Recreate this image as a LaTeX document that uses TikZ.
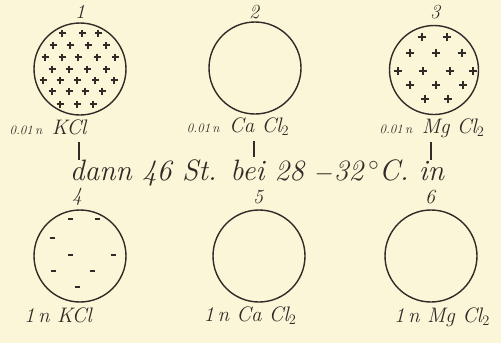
\documentclass[tikz,border=0pt]{standalone}
\usepackage{tikz}
\definecolor{paper}{HTML}{FCF6D9}
\definecolor{ink}{HTML}{2F2B26}
\begin{document}
\begin{tikzpicture}[x=1pt,y=-1pt,
  dish/.style={circle,draw=ink,line width=1.4pt,minimum size=92pt,inner sep=0pt},
  num/.style={text=ink,font=\fontsize{20}{22}\selectfont\itshape,inner sep=0pt},
  lab/.style={text=ink,font=\fontsize{21}{24}\selectfont\itshape,inner sep=0pt},
  mid/.style={text=ink,font=\fontsize{29.5}{32}\selectfont\itshape,inner sep=0pt,anchor=base},
  tick/.style={draw=ink,line width=1.1pt},
  plusmark/.style={draw=ink,line width=1.1pt},
  minusmark/.style={draw=ink,line width=1.2pt}]
\fill[paper] (0,0) rectangle (501,343);
\useasboundingbox (0,0) rectangle (501,343);
% dishes
\node[dish] (d1) at (80,69) {};
\node[dish] (d2) at (255,68) {};
\node[dish,minimum size=89pt] (d3) at (434,70) {};
\node[dish] (d4) at (80,256) {};
\node[dish] (d5) at (259,256) {};
\node[dish] (d6) at (431,256) {};
% numbers
\node[num] (n1) at (80,12) {1};
\node[num] (n2) at (254,12) {2};
\node[num] (n3) at (435,12) {3};
\node[num] (n4) at (77,197) {4};
\node[num] (n5) at (258,197) {5};
\node[num] (n6) at (430,197) {6};
% labels
\node[lab] (l1) at (48,127) {{\fontsize{13}{15}\selectfont 0.01\,n\,} KCl};
\node[lab] (l2) at (238,127) {{\fontsize{13}{15}\selectfont 0.01\,n\,} Ca Cl$_2$};
\node[lab] (l3) at (432,128) {{\fontsize{13}{15}\selectfont 0.01\,n\,} Mg Cl$_2$};
\node[lab] (l4) at (58,315) {1\,n KCl};
\node[lab] (l5) at (250,316) {1\,n Ca Cl$_2$};
\node[lab] (l6) at (442,317) {1\,n Mg Cl$_2$};
\node[mid] (m) at (257,180) {dann 46 St. bei 28 $-$32\,$^\circ$C. in};
% ticks
\coordinate (t1a) at (79,142); \coordinate (t1b) at (79,160);
\coordinate (t2a) at (254,141); \coordinate (t2b) at (254,157);
\coordinate (t3a) at (431,142); \coordinate (t3b) at (431,160);
\draw[tick] (t1a) -- (t1b);
\draw[tick] (t2a) -- (t2b);
\draw[tick] (t3a) -- (t3b);
% pluses dish 1
\foreach \px/\py in {62/33,82/33,98/33,
  53/45,70/45,88/45,106/45,
  45/57,62/57,78/57,97/57,115/57,
  52/69,69/69,87/69,106/69,
  43/80,60/80,77/80,95/80,114/80,
  52/91,69/91,85/91,102/91,
  60/104,77/104,93/104}
  \draw[plusmark] (\px-3.5,\py) -- (\px+3.5,\py) (\px,\py-3.5) -- (\px,\py+3.5);
% pluses dish 3
\foreach \px/\py in {422/37,447/37,
  410/53,436/53,462/53,
  398/71,423/71,450/71,473/71,
  410/85,436/85,463/85,
  425/99,448/99}
  \draw[plusmark] (\px-4,\py) -- (\px+4,\py) (\px,\py-4) -- (\px,\py+4);
% minuses dish 4
\foreach \px/\py in {70/219,97/219,52/238,70/255,113/255,53/271,92/271,77/287}
  \draw[minusmark] (\px-2.5,\py) -- (\px+2.5,\py);
\end{tikzpicture}
\end{document}
